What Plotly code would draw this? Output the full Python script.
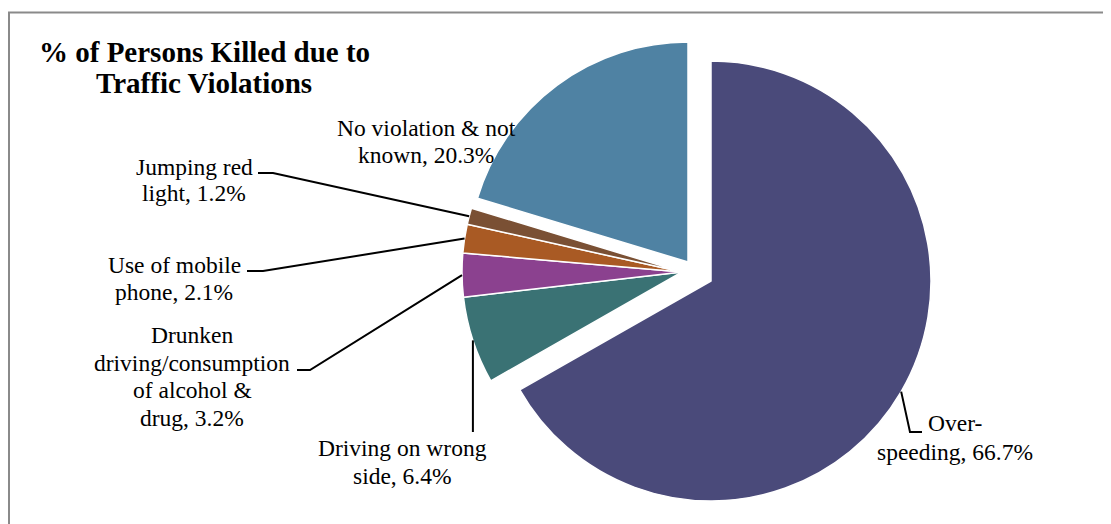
import math
import plotly.graph_objects as go

# ---- data ----
categories = ["Over-speeding", "Driving on wrong side",
              "Drunken driving/consumption of alcohol & drug",
              "Use of mobile phone", "Jumping red light",
              "No violation & not known"]
values = [66.7, 6.4, 3.2, 2.1, 1.2, 20.3]
label_lines = [["Over-", "speeding, 66.7%"],
               ["Driving on wrong", "side, 6.4%"],
               ["Drunken", "driving/consumption", "of alcohol &", "drug, 3.2%"],
               ["Use of mobile", "phone, 2.1%"],
               ["Jumping red", "light, 1.2%"],
               ["No violation & not", "known, 20.3%"]]
colors = ["#4A4A7A", "#3A7274", "#8B418F", "#A95A24", "#7A5034", "#4F82A3"]
title_lines = ["% of Persons Killed due to", "Traffic Violations"]

# ---- layout (screen pixel space; page body has an 8px margin) ----
W, H = 1111, 524
OFF = 8
R = 220
base_center = (682, 272)
exploded = {0: (711, 281), 5: (688, 262)}
groups = [[1, 2, 3, 4], [0], [5]]
FONT = "Liberation Serif"

fig = go.Figure()

def center_of(i):
    return exploded.get(i, base_center)

def px_x(x):
    return (x - OFF) / W

def px_y(y):
    return 1 - (y - OFF) / H

for g in groups:
    cx, cy = center_of(g[0])
    cols = [colors[i] if i in g else "rgba(0,0,0,0)" for i in range(len(values))]
    lw = [1.5 if i in g else 0 for i in range(len(values))]
    fig.add_trace(go.Pie(
        labels=categories, values=values, sort=False, direction="clockwise",
        rotation=0, textinfo="none", hoverinfo="skip", showlegend=False,
        marker=dict(colors=cols, line=dict(color="white", width=lw)),
        domain=dict(x=[px_x(cx - R), px_x(cx + R)],
                    y=[px_y(cy + R), px_y(cy - R)]),
    ))

# slice mid-points for leader lines
total = sum(values)
cum = 0
anchors = []
for i, v in enumerate(values):
    th = math.radians(360 * (cum + v / 2) / total)
    cx, cy = center_of(i)
    anchors.append((cx + R * math.sin(th), cy - R * math.cos(th)))
    cum += v

routes = {
    0: [(910, 432), (922, 432)],
    1: [(None, 432)],
    2: [(310, 370), (297, 370)],
    3: [(263, 271), (247, 271)],
    4: [(273, 173), (258, 173)],
}
for i, pts in routes.items():
    ax, ay = anchors[i]
    path = f"M {ax},{ay}"
    for (px, py) in pts:
        px = ax if px is None else px
        path += f" L {px},{py}"
    fig.add_shape(type="path", path=path, xref="x", yref="y",
                  line=dict(color="black", width=2))

label_pos = {
    0: (955, [423, 452]),
    1: (402, [448, 476]),
    2: (192, [335, 363, 390, 418]),
    3: (174, [265, 292]),
    4: (194, [167, 193]),
    5: (426, [128, 155]),
}
for i, (x, ys) in label_pos.items():
    for txt, y in zip(label_lines[i], ys):
        fig.add_annotation(x=x, y=y, xref="x", yref="y", text=txt,
                           showarrow=False, xanchor="center", yanchor="middle",
                           font=dict(family=FONT, size=23.5, color="black"))

for txt, y in zip(title_lines, [52, 83]):
    fig.add_annotation(x=204, y=y, xref="x", yref="y", text=f"<b>{txt}</b>",
                       showarrow=False, xanchor="center", yanchor="middle",
                       font=dict(family=FONT, size=29, color="black"))

# chart frame
fig.add_shape(type="path", path="M 9,540 L 9,12.5 L 1130,12.5",
              xref="x", yref="y", line=dict(color="#8A8A8A", width=2))

fig.update_layout(
    width=W, height=H, margin=dict(l=0, r=0, t=0, b=0),
    paper_bgcolor="white", plot_bgcolor="white",
    xaxis=dict(range=[OFF, W + OFF], visible=False, fixedrange=True),
    yaxis=dict(range=[H + OFF, OFF], visible=False, fixedrange=True),
)

fig.write_html("out.html")
